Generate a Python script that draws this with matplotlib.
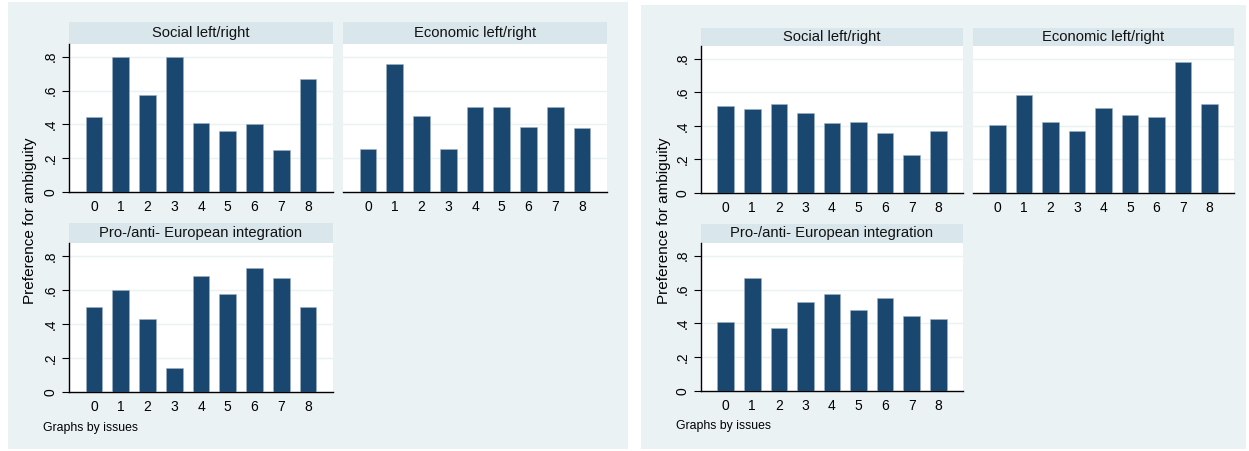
import matplotlib
matplotlib.use("Agg")
import matplotlib.pyplot as plt
from matplotlib.patches import Rectangle

plt.rcParams['font.family'] = ['Liberation Sans', 'DejaVu Sans']

categories = [0, 1, 2, 3, 4, 5, 6, 7, 8]
issues = ["Social left/right", "Economic left/right", "Pro-/anti- European integration"]

# Left panel values
left_social = [0.445, 0.80, 0.573, 0.80, 0.408, 0.36, 0.40, 0.25, 0.67]
left_economic = [0.252, 0.755, 0.447, 0.252, 0.50, 0.50, 0.386, 0.50, 0.378]
left_europe = [0.502, 0.601, 0.43, 0.142, 0.68, 0.577, 0.727, 0.668, 0.502]

# Right panel values
right_social = [0.52, 0.502, 0.528, 0.474, 0.417, 0.423, 0.357, 0.224, 0.369]
right_economic = [0.407, 0.586, 0.421, 0.371, 0.508, 0.4625, 0.4526, 0.78, 0.528]
right_europe = [0.41, 0.671, 0.372, 0.527, 0.575, 0.478, 0.549, 0.446, 0.424]

yticks = [0, 0.2, 0.4, 0.6, 0.8]
ytick_labels = ["0", ".2", ".4", ".6", ".8"]
ylabel = "Preference for ambiguity"
note = "Graphs by issues"

W, H = 1249, 451
fig = plt.figure(figsize=(W / 100, H / 100), dpi=100)
fig.patch.set_facecolor("white")

BG = "#eaf2f3"
STRIP = "#d9e6eb"
BAR = "#1a476f"


def fbox(x0, y0, x1, y1):
    return [x0 / W, 1 - y1 / H, (x1 - x0) / W, (y1 - y0) / H]


def panel_bg(x0, y0, x1, y1):
    fig.patches.append(Rectangle((x0 / W, 1 - y1 / H), (x1 - x0) / W, (y1 - y0) / H,
                                 transform=fig.transFigure, facecolor=BG,
                                 edgecolor="none", zorder=-5))


def subplot(x0, x1, ys, yt, yb, title, values, show_y):
    st = fig.add_axes(fbox(x0, ys, x1, yt))
    st.set_facecolor(STRIP)
    st.set_xticks([]); st.set_yticks([])
    for s in st.spines.values():
        s.set_visible(False)
    st.text(0.5, 0.5, title, ha="center", va="center", fontsize=10.6,
            color="#111111", transform=st.transAxes)

    ax = fig.add_axes(fbox(x0, yt, x1, yb))
    ax.set_facecolor("white")
    ax.bar(categories, values, width=0.62, color=BAR, edgecolor="#9fb3c4",
           linewidth=0.4, zorder=3)
    ax.set_xlim(-0.93, 8.93)
    ax.set_ylim(0, 0.875)
    ax.set_yticks(yticks)
    for t in yticks[1:]:
        ax.axhline(t, color=BG, linewidth=1.0, zorder=1)
    ax.set_xticks(categories)
    ax.set_xticklabels([str(c) for c in categories], fontsize=10)
    ax.tick_params(axis="x", length=0, pad=6)
    for s in ["top", "right"]:
        ax.spines[s].set_visible(False)
    ax.spines["bottom"].set_color("black")
    ax.spines["bottom"].set_linewidth(1.0)
    if show_y:
        ax.spines["left"].set_color("black")
        ax.spines["left"].set_linewidth(1.0)
        ax.set_yticklabels(ytick_labels, fontsize=10, rotation=90, va="center")
        ax.tick_params(axis="y", length=5, width=0.8, pad=3)
    else:
        ax.spines["left"].set_visible(False)
        ax.tick_params(axis="y", length=0, labelleft=False)
    return ax


# Left panel
panel_bg(8, 2, 628, 449)
subplot(69, 333, 22, 44, 192, issues[0], left_social, True)
subplot(343, 607, 22, 44, 192, issues[1], left_economic, False)
subplot(69, 333, 223, 243, 392, issues[2], left_europe, True)
fig.text(30 / W, 1 - 221 / H, ylabel, rotation=90, ha="center", va="center", fontsize=11)
fig.text(43 / W, 1 - 428 / H, note, ha="left", va="center", fontsize=8.8)

# Right panel
panel_bg(641, 5, 1246, 449)
subplot(701, 963, 28, 46, 193, issues[0], right_social, True)
subplot(973, 1234, 28, 46, 193, issues[1], right_economic, False)
subplot(701, 963, 224, 243, 391, issues[2], right_europe, True)
fig.text(664 / W, 1 - 221 / H, ylabel, rotation=90, ha="center", va="center", fontsize=11)
fig.text(676 / W, 1 - 426 / H, note, ha="left", va="center", fontsize=8.8)

fig.savefig("out.png", dpi=100, facecolor="white")
